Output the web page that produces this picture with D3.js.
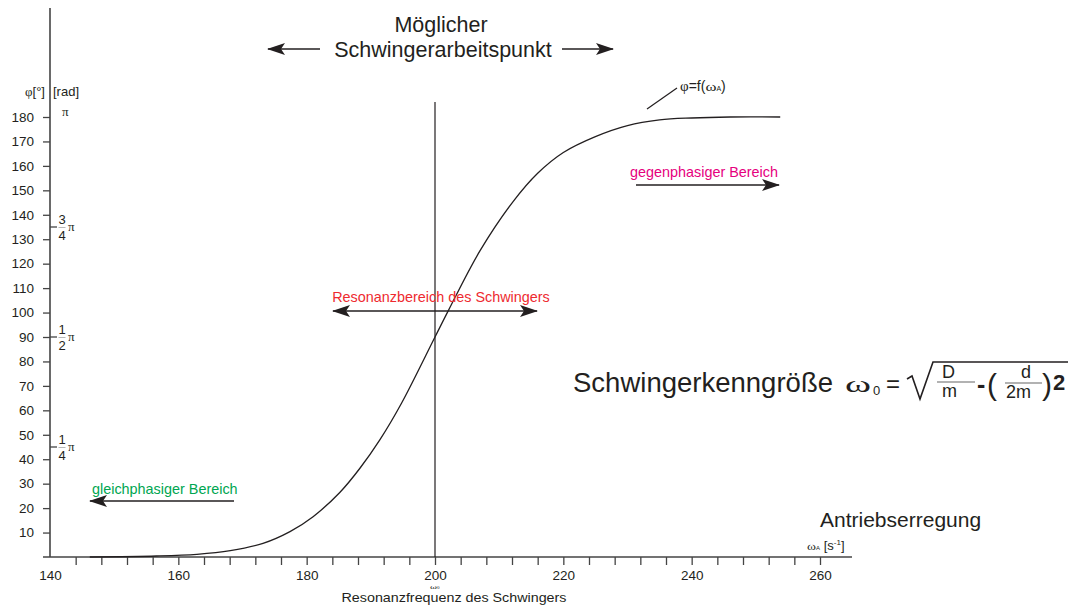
<!DOCTYPE html>
<html><head><meta charset="utf-8">
<script src="https://cdn.jsdelivr.net/npm/d3@7/dist/d3.min.js"></script>
<style>
html,body{margin:0;padding:0;background:#fff;}
svg{display:block;font-family:"Liberation Sans",Arial,Helvetica,sans-serif;}
</style></head>
<body>
<svg id="c" width="1078" height="606"></svg>
<script>
// ---- data ----
const omega = [146.2,156.6,162.9,168.1,173.2,177.4,181,185.2,188.3,191.4,194.8,200,202.1,207,212.2,216,220,225,230,235,240,246,253.8];
const phi   = [0,0.4,1.1,2.6,5.6,10.4,16.5,26.5,36.3,47.9,63,90,100.9,125.2,145.5,157,165.5,172,176.5,178.8,179.6,180,180];
const xTickValues = d3.range(140, 261, 4);
const xTickLabels = [140,160,180,200,220,240,260];
const yTickValues = [10,20,30,40,50,60,70,80,90,100,110,120,130,140,150,160,170,180];
const radNumerators = ["3","1","1"];
const radDenominators = ["4","2","4"];
const radDegrees = [135,90,45];
const omega0 = 200;

const svg = d3.select("#c");
const x = d3.scaleLinear().domain([140,260]).range([50,820]);
const y = d3.scaleLinear().domain([0,180]).range([557,117]);
const ink = "#231f20";
const serif = "Liberation Serif, serif";

// markers
const defs = svg.append("defs");
defs.append("marker").attr("id","ah").attr("viewBox","0 0 18 12").attr("refX",17).attr("refY",6)
  .attr("markerWidth",18).attr("markerHeight",12).attr("markerUnits","userSpaceOnUse").attr("orient","auto-start-reverse")
  .append("path").attr("d","M0,0 L18,6 L0,12 L4,6 Z").attr("fill",ink);

// axes lines
svg.append("line").attr("x1",50).attr("x2",50).attr("y1",8).attr("y2",557).attr("stroke","#444").attr("stroke-width",1.6);
svg.append("line").attr("x1",43).attr("x2",852).attr("y1",557).attr("y2",557).attr("stroke","#444").attr("stroke-width",1.6);

// x axis
const xa = svg.append("g").attr("transform","translate(0,557)")
  .call(d3.axisBottom(x).tickValues(xTickValues).tickSize(8).tickPadding(5)
    .tickFormat(d => xTickLabels.includes(d) ? d : ""));
xa.select(".domain").remove();
xa.selectAll(".tick line").attr("stroke","#444").attr("stroke-width",1.3);
xa.selectAll(".tick line").filter(d => d===140).remove();
xa.selectAll("text").attr("font-size",13.5).attr("fill",ink).attr("font-family","Liberation Sans, Arial, sans-serif");

// y axis
const ya = svg.append("g").attr("transform","translate(50,0)")
  .call(d3.axisLeft(y).tickValues(yTickValues).tickSize(7).tickPadding(9));
ya.select(".domain").remove();
ya.selectAll(".tick line").attr("stroke","#444").attr("stroke-width",1.3);
ya.selectAll("text").attr("font-size",13.5).attr("fill",ink).attr("font-family","Liberation Sans, Arial, sans-serif");

// rad ticks
radDegrees.forEach((deg,i) => {
  const yy = y(deg);
  svg.append("line").attr("x1",50).attr("x2",57).attr("y1",yy).attr("y2",yy).attr("stroke","#444").attr("stroke-width",1.3);
  svg.append("text").attr("x",62).attr("y",yy-3).attr("text-anchor","middle").attr("font-size",13).attr("fill",ink).text(radNumerators[i]);
  svg.append("line").attr("x1",58.5).attr("x2",65.5).attr("y1",yy+0.5).attr("y2",yy+0.5).attr("stroke","#888").attr("stroke-width",0.6);
  svg.append("text").attr("x",62).attr("y",yy+13).attr("text-anchor","middle").attr("font-size",13).attr("fill",ink).text(radDenominators[i]);
  svg.append("text").attr("x",68).attr("y",yy+4).attr("font-size",13).attr("font-family",serif).attr("fill",ink).text("π");
});
svg.append("text").attr("x",62).attr("y",y(180)-1).attr("font-size",13).attr("font-family",serif).attr("fill",ink).text("π");
svg.append("text").attr("x",45).attr("y",96).attr("text-anchor","end").attr("font-size",13).attr("fill",ink)
  .html('<tspan font-family="Liberation Serif, serif">φ</tspan>[°]');
svg.append("text").attr("x",53).attr("y",96).attr("font-size",13).attr("fill",ink).text("[rad]");

// omega0 vertical line
svg.append("line").attr("x1",x(omega0)).attr("x2",x(omega0)).attr("y1",102).attr("y2",557).attr("stroke",ink).attr("stroke-width",1.2);

// curve
const pts = omega.map((w,i)=>[w,phi[i]]);
svg.append("path").datum(pts)
  .attr("d", d3.line().x(d=>x(d[0])).y(d=>y(d[1])).curve(d3.curveCatmullRom.alpha(0.5)))
  .attr("fill","none").attr("stroke",ink).attr("stroke-width",1.3);

// x labels
svg.append("text").attr("x",x(omega0)-5).attr("y",588.7).attr("font-size",7).attr("font-family",serif).attr("fill",ink)
  .html('<tspan textLength="7" lengthAdjust="spacingAndGlyphs">ω</tspan><tspan font-size="5">0</tspan>');
svg.append("text").attr("x",454).attr("y",602.3).attr("text-anchor","middle").attr("font-size",13.6).attr("fill",ink)
  .attr("textLength",225).attr("lengthAdjust","spacingAndGlyphs").text("Resonanzfrequenz des Schwingers");
svg.append("text").attr("x",807).attr("y",550).attr("font-size",13).attr("fill",ink)
  .html('<tspan font-family="Liberation Serif, serif" font-size="10" textLength="9" lengthAdjust="spacingAndGlyphs">ω</tspan><tspan font-size="6">A</tspan> [s<tspan font-size="8" dy="-5">-1</tspan><tspan dy="5">]</tspan>');
svg.append("text").attr("x",820).attr("y",527).attr("font-size",21).attr("fill",ink).text("Antriebserregung");

// top annotation
svg.append("text").attr("x",441).attr("y",32).attr("text-anchor","middle").attr("font-size",21.5).attr("fill",ink).text("Möglicher");
svg.append("text").attr("x",443).attr("y",57).attr("text-anchor","middle").attr("font-size",21.5).attr("fill",ink).text("Schwingerarbeitspunkt");
function arrow(x1,y1,x2,y2,both){
  const l = svg.append("line").attr("x1",x1).attr("y1",y1).attr("x2",x2).attr("y2",y2)
    .attr("stroke",ink).attr("stroke-width",1.4).attr("marker-end","url(#ah)");
  if(both) l.attr("marker-start","url(#ah)");
}
arrow(320,49,268,49);
arrow(562,49,613,49);

// curve label
svg.append("line").attr("x1",647).attr("y1",109).attr("x2",677).attr("y2",88).attr("stroke",ink).attr("stroke-width",1.2);
svg.append("text").attr("x",680).attr("y",91).attr("font-size",14).attr("fill",ink)
  .html('<tspan font-family="Liberation Serif, serif" font-size="15">φ</tspan>=f(<tspan font-family="Liberation Serif, serif" font-size="13" textLength="11" lengthAdjust="spacingAndGlyphs">ω</tspan><tspan font-size="7">A</tspan>)');

// regions
svg.append("text").attr("x",630).attr("y",177).attr("font-size",14.4).attr("fill","#e6007e").text("gegenphasiger Bereich");
arrow(636,185,779,185);
svg.append("text").attr("x",441).attr("y",302).attr("text-anchor","middle").attr("font-size",14.4).attr("fill","#ee2a2f").text("Resonanzbereich des Schwingers");
arrow(333,311,537,311,true);
svg.append("text").attr("x",92).attr("y",494).attr("font-size",14.4).attr("fill","#00a651").text("gleichphasiger Bereich");
arrow(234,501,90,501);

// formula
const f = svg.append("g").attr("fill",ink);
f.append("text").attr("x",573).attr("y",392).attr("font-size",27.5).attr("textLength",260).attr("lengthAdjust","spacingAndGlyphs").text("Schwingerkenngröße");
f.append("text").attr("x",845).attr("y",392).attr("font-size",24).attr("font-family",serif).attr("textLength",26).attr("lengthAdjust","spacingAndGlyphs").text("ω");
f.append("text").attr("x",873).attr("y",395).attr("font-size",13).text("0");
f.append("text").attr("x",886).attr("y",392).attr("font-size",24).text("=");
f.append("path").attr("d","M907,379 L912,376 L920,399 L933,362 L1068,362").attr("fill","none").attr("stroke",ink).attr("stroke-width",1.6);
f.append("text").attr("x",942).attr("y",378).attr("font-size",18).text("D");
f.append("line").attr("x1",937).attr("x2",975).attr("y1",382).attr("y2",382).attr("stroke","#666").attr("stroke-width",1.2);
f.append("text").attr("x",942).attr("y",397).attr("font-size",18).text("m");
f.append("text").attr("x",977).attr("y",393).attr("font-size",25).attr("font-weight","bold").text("-");
f.append("text").attr("x",987).attr("y",395).attr("font-size",30).text("(");
f.append("text").attr("x",1021).attr("y",378).attr("font-size",18).text("d");
f.append("line").attr("x1",1005).attr("x2",1042).attr("y1",383).attr("y2",383).attr("stroke","#666").attr("stroke-width",1.2);
f.append("text").attr("x",1006).attr("y",398).attr("font-size",18).text("2m");
f.append("text").attr("x",1042).attr("y",395).attr("font-size",30).text(")");
f.append("text").attr("x",1053).attr("y",390).attr("font-size",22).attr("font-weight","bold").text("2");
</script>
</body></html>
